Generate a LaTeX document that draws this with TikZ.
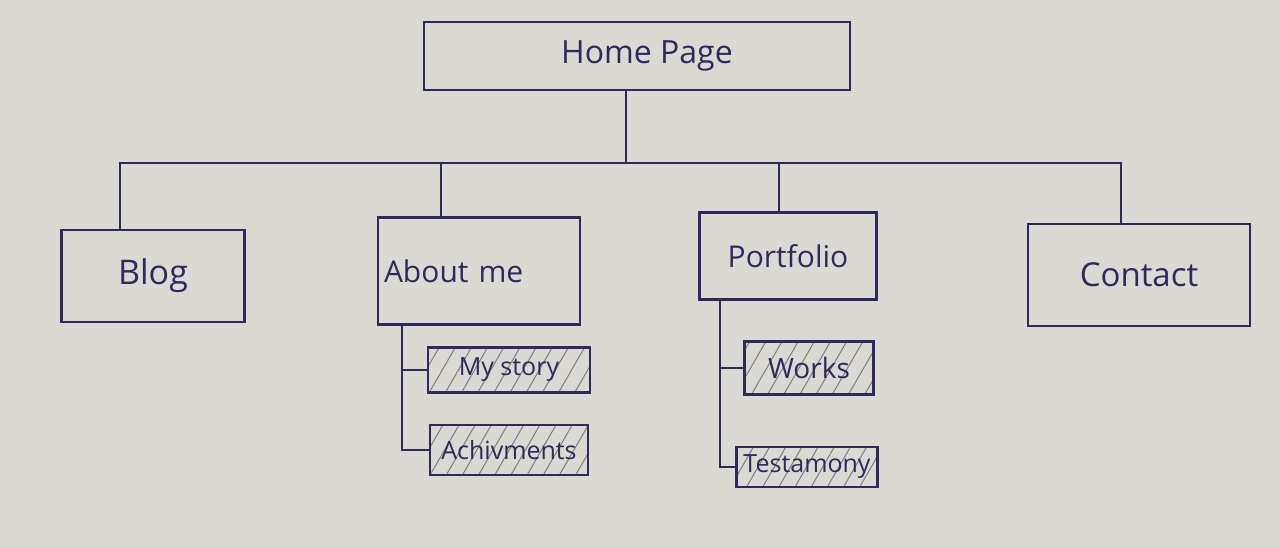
\documentclass[tikz,border=0pt]{standalone}
\usepackage{fontspec}
\setmainfont{Open Sans}
\usetikzlibrary{patterns.meta}
\definecolor{paper}{HTML}{DAD9D4}
\definecolor{ink}{HTML}{2E2A5C}
\definecolor{hatch}{HTML}{7E7E7E}
\begin{document}
\begin{tikzpicture}[x=1pt,y=-1pt,
  line width=2.6pt, draw=ink, text=ink,
  page/.style={draw=ink, line width=2.6pt, inner sep=0pt, font=\fontsize{30}{32}\selectfont},
  subpage/.style={draw=ink, line width=2.4pt, inner sep=0pt, font=\fontsize{25}{27}\selectfont,
    pattern={Lines[angle=60,distance=14pt,line width=1pt]}, pattern color=hatch},
  link/.style={draw=ink, line width=2.6pt, line cap=round}]
  % paper
  \fill[paper] (0,0) rectangle (1280,548);
  \useasboundingbox (0,0) rectangle (1280,548);

  % top level
  \node[page, minimum width=426pt, minimum height=68pt, font=\fontsize{32}{34}\selectfont]
    (home) at (637,56) {\hspace*{20pt}Home Page};

  % main sections
  \node[page, minimum width=183pt, minimum height=92pt, font=\fontsize{34}{36}\selectfont]
    (blog) at (153,276) {Blog};
  \node[page, text width=190pt, align=left, inner xsep=6pt, minimum height=107pt]
    (about) at (479,271) {About me};
  \node[page, minimum width=177pt, minimum height=87pt]
    (portfolio) at (788,256) {Portfolio};
  \node[page, minimum width=222pt, minimum height=102pt, font=\fontsize{33}{35}\selectfont]
    (contact) at (1139,275) {Contact};

  % sub pages
  \node[subpage, minimum width=162pt, minimum height=45pt] (story) at (509,370) {My story};
  \node[subpage, minimum width=158pt, minimum height=50pt] (achiev) at (509,450) {Achivments};
  \node[subpage, minimum width=129pt, minimum height=53pt, font=\fontsize{28}{30}\selectfont]
    (works) at (809,368) {Works};
  \node[subpage, minimum width=141pt, minimum height=40pt] (testam) at (807,467) {Testamony};

  % distribution bus
  \coordinate (hub) at (626,163);
  \coordinate (dBlog) at (120,163);
  \coordinate (dAbout) at (441,163);
  \coordinate (dPort) at (779,163);
  \coordinate (dContact) at (1121,163);
  \draw[link] (home.south -| hub) -- (hub);
  \draw[link] (dBlog) -- (dContact);
  \draw[link] (dBlog) -- (dBlog |- blog.north);
  \draw[link] (dAbout) -- (dAbout |- about.north);
  \draw[link] (dPort) -- (dPort |- portfolio.north);
  \draw[link] (dContact) -- (dContact |- contact.north);

  % About me branch
  \coordinate (aTop) at (402,0);
  \draw[link] (aTop |- about.south) -- (aTop |- achiev.west) -- (achiev.west);
  \draw[link] (aTop |- story.west) -- (story.west);

  % Portfolio branch
  \coordinate (pTop) at (720,0);
  \draw[link] (pTop |- portfolio.south) -- (pTop |- testam.west) -- (testam.west);
  \draw[link] (pTop |- works.west) -- (works.west);
\end{tikzpicture}
\end{document}
